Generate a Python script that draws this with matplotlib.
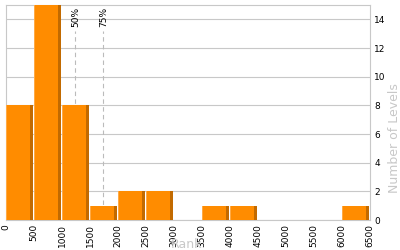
import matplotlib
matplotlib.use("Agg")
import matplotlib.pyplot as plt

bin_edges = [0, 500, 1000, 1500, 2000, 2500, 3000, 3500, 4000, 4500, 5000, 5500, 6000, 6500]
counts = [8, 15, 8, 1, 2, 2, 0, 1, 1, 0, 0, 0, 1]
percentiles = [("50%", 1240), ("75%", 1740)]
y_ticks = [0, 2, 4, 6, 8, 10, 12, 14]

fig = plt.figure(figsize=(4.0, 2.5), dpi=100)
ax = fig.add_axes([0.015, 0.12, 0.91, 0.86])

gap = 18
for left, right, c in zip(bin_edges[:-1], bin_edges[1:], counts):
    if c == 0:
        continue
    w = right - left - gap
    ax.bar(left, c, width=w, align="edge", color="#FF8C00", linewidth=0, zorder=3)
    ax.bar(left, c, width=20, align="edge", color="#FFAA45", linewidth=0, zorder=4)
    ax.bar(left + w - 50, c, width=50, align="edge", color="#C26A00", linewidth=0, zorder=4)

for label, x in percentiles:
    ax.plot([x, x], [0, 13.2], color="#BBBBBB", linestyle=(0, (4, 3)), linewidth=0.8, zorder=2)
    ax.text(x, 13.45, label, rotation=90, ha="center", va="bottom", fontsize=6.5, color="black", zorder=5)

ax.set_xlim(0, 6500)
ax.set_ylim(0, 15)
ax.set_xticks(bin_edges)
ax.set_xticklabels([str(b) for b in bin_edges], rotation=90, fontsize=6.5)
ax.set_yticks(y_ticks)
ax.set_yticklabels([str(t) for t in y_ticks], fontsize=6.5)
ax.yaxis.tick_right()
ax.tick_params(axis="both", length=0, pad=3)
ax.grid(axis="y", color="#C8C8C8", linewidth=0.8, zorder=1)
for s in ax.spines.values():
    s.set_color("#C8C8C8")
    s.set_linewidth(0.8)

# axis titles placed like the original (light gray, partly over tick labels)
fig.text(0.985, 1 - 138 / 250, "Number of Levels", rotation=90, ha="center", va="center",
         color="#C8C8C8", fontsize=9)
fig.text(186 / 400, 1 - 245 / 250, "Rank", ha="center", va="center", color="#C8C8C8", fontsize=9)

fig.savefig("out.png", dpi=100)
